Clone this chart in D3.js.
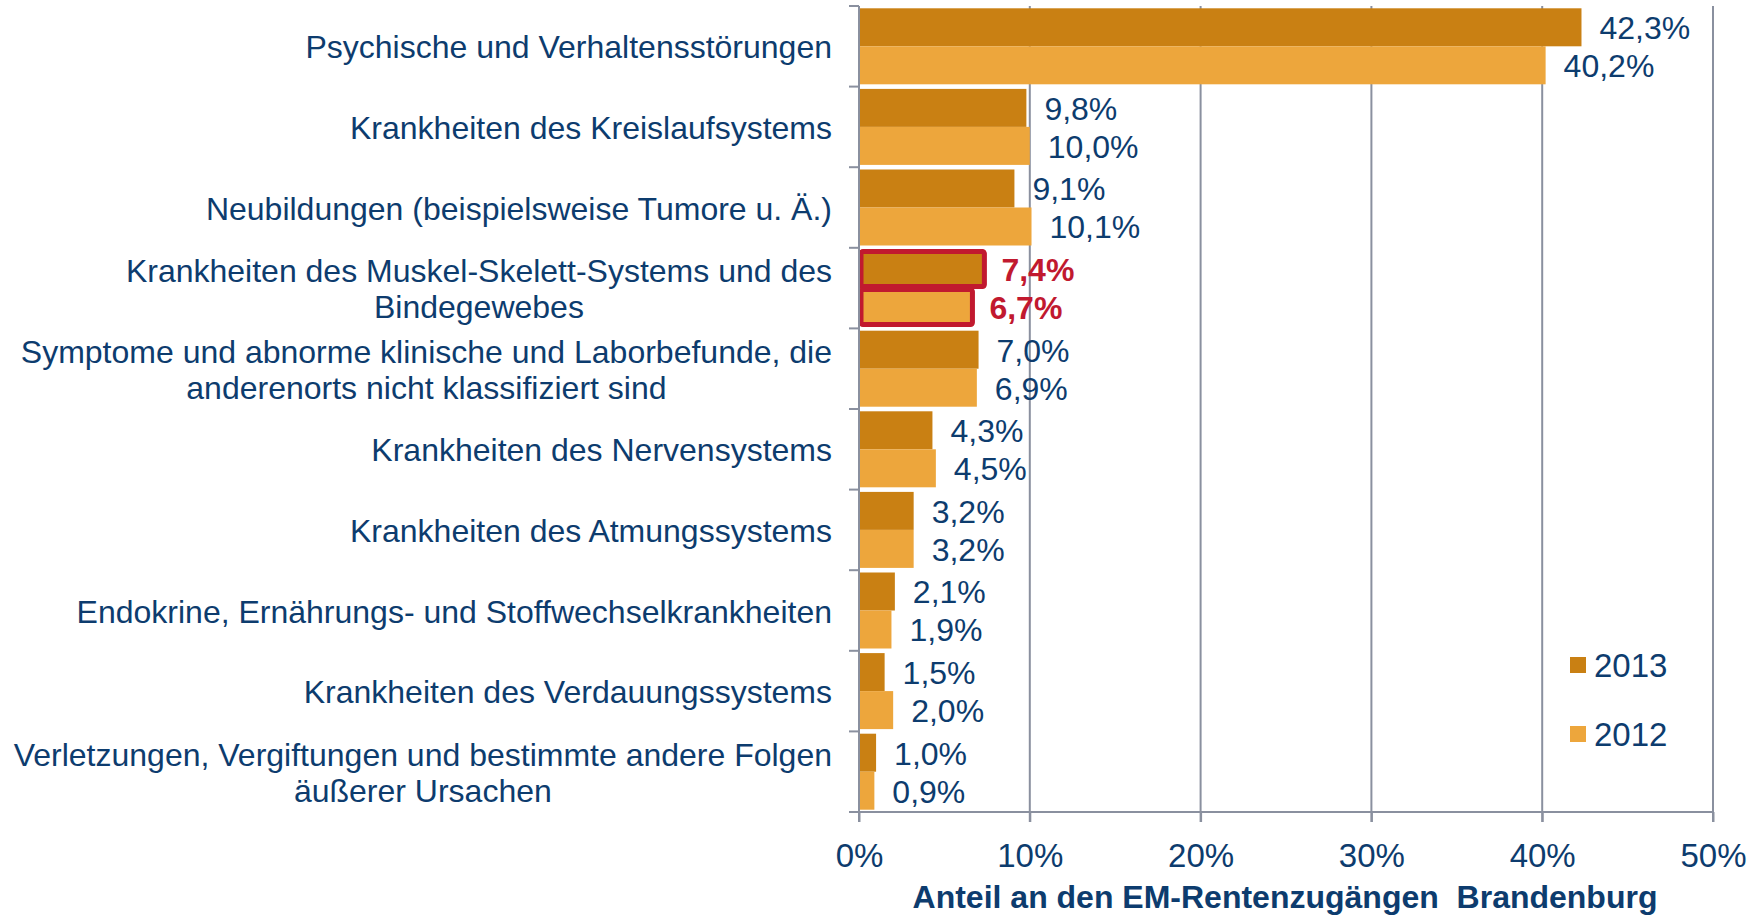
<!DOCTYPE html>
<html>
<head>
<meta charset="utf-8">
<script src="https://cdn.jsdelivr.net/npm/d3@7"></script>
<style>
  html, body { margin: 0; padding: 0; background: #fff; }
  text { font-family: "Liberation Sans", Arial, sans-serif; }
</style>
</head>
<body>
<svg id="chart" width="1763" height="915"></svg>
<script>
const categories = [
  ["Psychische und Verhaltensstörungen"],
  ["Krankheiten des Kreislaufsystems"],
  ["Neubildungen (beispielsweise Tumore u. Ä.)"],
  ["Krankheiten des Muskel-Skelett-Systems und des", "Bindegewebes"],
  ["Symptome und abnorme klinische und Laborbefunde, die", "anderenorts nicht klassifiziert sind"],
  ["Krankheiten des Nervensystems"],
  ["Krankheiten des Atmungssystems"],
  ["Endokrine, Ernährungs- und Stoffwechselkrankheiten"],
  ["Krankheiten des Verdauungssystems"],
  ["Verletzungen, Vergiftungen und bestimmte andere Folgen", "äußerer Ursachen"]
];
const seriesNames = ["2013", "2012"];
const values2013 = [42.3, 9.8, 9.1, 7.4, 7.0, 4.3, 3.2, 2.1, 1.5, 1.0];
const values2012 = [40.2, 10.0, 10.1, 6.7, 6.9, 4.5, 3.2, 1.9, 2.0, 0.9];
const xTicks = [0, 10, 20, 30, 40, 50];
const highlightIndex = 3;
const axisTitle = "Anteil an den EM-Rentenzugängen  Brandenburg";

(function () {
const colors = {"2013": "#C98013", "2012": "#EDA63C"};
const textColor = "#0D3C6E";
const gridColor = "#8A909F";
const red = "#C1192F";

const svg = d3.select("#chart");
svg.append("rect").attr("width", 1763).attr("height", 915).attr("fill", "#fff");

const pLeft = 859, pRight = 1713, pTop = 6, pBottom = 812;
const x = d3.scaleLinear().domain([0, 50]).range([pLeft, pRight]);
const y0 = d3.scaleBand().domain(d3.range(categories.length)).range([pTop, pBottom])
  .paddingInner(0.057).paddingOuter(0.0285);
const y1 = d3.scaleBand().domain(seriesNames).range([0, y0.bandwidth()]);

const fmt = v => d3.format(".1f")(v).replace(".", ",") + "%";

// grid lines
svg.append("g").selectAll("line").data(xTicks.filter(t => t > 0)).join("line")
  .attr("x1", d => x(d)).attr("x2", d => x(d))
  .attr("y1", pTop).attr("y2", pBottom + 10)
  .attr("stroke", gridColor).attr("stroke-width", 2);

// bars
const data = categories.map((c, i) => ({i, vals: [
  {s: "2013", v: values2013[i], i}, {s: "2012", v: values2012[i], i}]}));

const g = svg.append("g").selectAll("g").data(data).join("g")
  .attr("transform", d => `translate(0,${y0(d.i)})`);

g.selectAll("rect.bar").data(d => d.vals).join("rect")
  .attr("class", "bar")
  .attr("x", x(0)).attr("y", d => y1(d.s))
  .attr("width", d => x(d.v) - x(0)).attr("height", y1.bandwidth())
  .attr("fill", d => colors[d.s]);

// highlight outlines
g.filter(d => d.i === highlightIndex).selectAll("rect.hl")
  .data(d => d.vals).join("rect").attr("class", "hl")
  .attr("x", x(0) + 2).attr("y", d => y1(d.s) + 1.5)
  .attr("width", d => x(d.v) - x(0) - 3).attr("height", y1.bandwidth() - 3)
  .attr("rx", 2).attr("fill", "none").attr("stroke", red).attr("stroke-width", 5);

// value labels
g.selectAll("text.val").data(d => d.vals).join("text")
  .attr("class", "val")
  .attr("x", d => x(d.v) + (d.i === highlightIndex ? 16 : 18))
  .attr("y", d => y1(d.s) + y1.bandwidth() / 2 + 1)
  .attr("dominant-baseline", "central")
  .attr("font-size", 32)
  .attr("font-weight", d => d.i === highlightIndex ? "bold" : "normal")
  .attr("fill", d => d.i === highlightIndex ? red : textColor)
  .text(d => fmt(d.v));

// left axis line & ticks
svg.append("line").attr("x1", x(0)).attr("x2", x(0)).attr("y1", pTop).attr("y2", pBottom + 10)
  .attr("stroke", gridColor).attr("stroke-width", 2);
svg.append("g").selectAll("line").data(d3.range(categories.length + 1)).join("line")
  .attr("x1", x(0) - 10).attr("x2", x(0))
  .attr("y1", d => pTop + d * (pBottom - pTop) / categories.length)
  .attr("y2", d => pTop + d * (pBottom - pTop) / categories.length)
  .attr("stroke", gridColor).attr("stroke-width", 2);

// bottom axis
const xAxis = d3.axisBottom(x).tickValues(xTicks).tickSize(10).tickFormat(d => d + "%");
const ax = svg.append("g").attr("transform", `translate(0,${pBottom})`).call(xAxis);
ax.select(".domain").remove();
ax.append("line").attr("x1", x(0) - 10).attr("x2", pRight + 1).attr("stroke", gridColor).attr("stroke-width", 2);
ax.selectAll(".tick line").attr("stroke", gridColor).attr("stroke-width", 2);
ax.selectAll(".tick text").attr("fill", textColor).attr("font-size", 33)
  .attr("font-family", '"Liberation Sans", Arial, sans-serif').attr("dy", 0).attr("y", 55);

// axis title
svg.append("text").attr("x", 1285).attr("y", 908).attr("text-anchor", "middle")
  .style("white-space", "pre")
  .attr("font-size", 32).attr("font-weight", "bold").attr("fill", textColor)
  .text(axisTitle);

// category labels
const labelRight = 832;
const lineH = 36;
const lg = svg.append("g");
categories.forEach((lines, i) => {
  const cy = y0(i) + y0.bandwidth() / 2;
  const t = lg.append("text").attr("font-size", 32).attr("fill", textColor);
  const n = lines.length;
  lines.forEach((ln, k) => {
    t.append("tspan").attr("y", cy + (k - (n - 1) / 2) * lineH + 12).text(ln);
  });
  const spans = t.selectAll("tspan").nodes();
  const maxW = d3.max(spans, s => s.getComputedTextLength());
  if (n === 1) {
    t.attr("text-anchor", "end");
    t.selectAll("tspan").attr("x", labelRight);
  } else {
    t.attr("text-anchor", "middle");
    t.selectAll("tspan").attr("x", labelRight - maxW / 2);
  }
});

// legend
const legY = [665, 734];
const leg = svg.append("g").selectAll("g").data(seriesNames).join("g")
  .attr("transform", (d, i) => `translate(1570,${legY[i]})`);
leg.append("rect").attr("x", 0).attr("y", -8).attr("width", 16).attr("height", 16)
  .attr("fill", d => colors[d]);
leg.append("text").attr("x", 24).attr("y", 0).attr("dominant-baseline", "central")
  .attr("font-size", 33).attr("fill", textColor).text(d => d);
})();
</script>
</body>
</html>
